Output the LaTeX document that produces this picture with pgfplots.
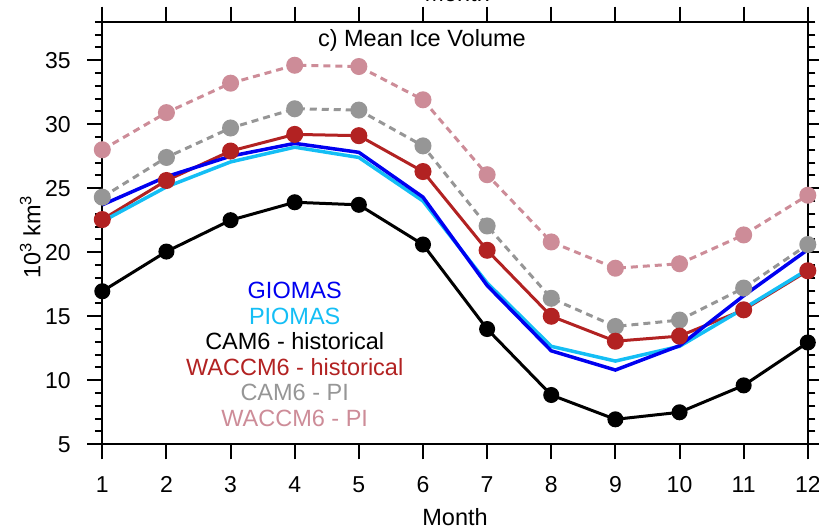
\documentclass[border=0pt]{standalone}
\usepackage{pgfplots}
\pgfplotsset{compat=1.18}
\usepackage{fontspec}
\setmainfont{Liberation Sans}
\definecolor{giomas}{RGB}{0,0,240}
\definecolor{piomas}{RGB}{20,190,245}
\definecolor{waccmh}{RGB}{178,34,34}
\definecolor{campi}{RGB}{150,150,150}
\definecolor{waccmpi}{RGB}{205,140,152}
\begin{document}
\begin{tikzpicture}
\useasboundingbox (-102.3pt,-87.7pt) rectangle (716.7pt,444.3pt);
\begin{axis}[
  scale only axis, width=705.5pt, height=422.6pt,
  xmin=1, xmax=12, ymin=5, ymax=38,
  xtick={1,...,12}, ytick={5,10,...,35},
  minor ytick={6,7,8,9,11,12,13,14,16,17,18,19,21,22,23,24,26,27,28,29,31,32,33,34,36,37,38},
  tick align=outside, major tick length=15pt, minor tick length=7.5pt,
  axis line style={line width=2pt},
  every tick/.style={line width=2pt, black},
  font=\fontsize{23.5}{28}\selectfont,
  tick label style={font=\fontsize{23}{28}\selectfont},
  /pgf/number format/assume math mode=true,
  xticklabel style={anchor=base, yshift=-33pt},
  yticklabel style={anchor=east, xshift=-13pt},
  xlabel={Month},
  xlabel style={at={(axis description cs:0.5,0)}, anchor=base, yshift=-80.7pt},
  ylabel={10\textsuperscript{3} km\textsuperscript{3}},
  ylabel style={at={(axis description cs:-0.102,0.4905)}, anchor=center, rotate=0},
  clip=false,
  every axis plot/.append style={line width=3pt, mark=*, mark size=7pt},
]
% WACCM6 - PI
\addplot[color=waccmpi, dash pattern=on 7pt off 5pt, mark options={solid, fill=waccmpi}] coordinates {
(1,28.0) (2,30.9) (3,33.2) (4,34.6) (5,34.5) (6,31.9) (7,26.05) (8,20.8) (9,18.75) (10,19.1) (11,21.35) (12,24.45)};
% CAM6 - PI
\addplot[color=campi, dash pattern=on 7pt off 5pt, mark options={solid, fill=campi}] coordinates {
(1,24.3) (2,27.4) (3,29.7) (4,31.2) (5,31.1) (6,28.3) (7,22.05) (8,16.4) (9,14.2) (10,14.7) (11,17.2) (12,20.6)};
% WACCM6 - historical
\addplot[color=waccmh, mark options={fill=waccmh}] coordinates {
(1,22.55) (2,25.6) (3,27.9) (4,29.2) (5,29.1) (6,26.3) (7,20.15) (8,15.0) (9,13.05) (10,13.45) (11,15.5) (12,18.55)};
% CAM6 - historical
\addplot[color=black, mark options={fill=black}, mark size=6.5pt] coordinates {
(1,16.95) (2,20.05) (3,22.5) (4,23.9) (5,23.7) (6,20.6) (7,14.0) (8,8.85) (9,6.95) (10,7.5) (11,9.6) (12,12.95)};
% PIOMAS
\addplot[color=piomas, line width=3.5pt, mark=none] coordinates {
(1,22.4) (2,25.1) (3,27.05) (4,28.2) (5,27.4) (6,24.0) (7,17.6) (8,12.65) (9,11.5) (10,12.65) (11,15.6) (12,18.65)};
% GIOMAS
\addplot[color=giomas, line width=3.5pt, mark=none] coordinates {
(1,23.7) (2,25.9) (3,27.5) (4,28.5) (5,27.8) (6,24.3) (7,17.4) (8,12.3) (9,10.8) (10,12.7) (11,16.6) (12,20.2)};

\node[anchor=base, text=giomas] at (axis cs:4,16.35) {GIOMAS};
\node[anchor=base, text=piomas] at (axis cs:4,14.36) {PIOMAS};
\node[anchor=base, text=black] at (axis cs:4,12.37) {CAM6 - historical};
\node[anchor=base, text=waccmh] at (axis cs:4,10.38) {WACCM6 - historical};
\node[anchor=base, text=campi] at (axis cs:4,8.39) {CAM6 - PI};
\node[anchor=base, text=waccmpi] at (axis cs:4,6.40) {WACCM6 - PI};
\node[anchor=base] at (axis description cs:0.453,0.9408) {c) Mean Ice Volume};
\node[anchor=base] at (axis description cs:0.503,1) [yshift=19.7pt] {Month};
\end{axis}
\end{tikzpicture}
\end{document}
